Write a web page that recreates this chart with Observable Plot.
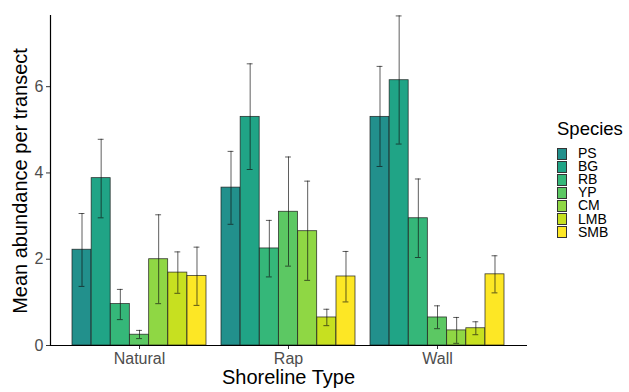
<!DOCTYPE html>
<html>
<head>
<meta charset="utf-8">
<script src="https://cdn.jsdelivr.net/npm/d3@7"></script>
<script src="https://cdn.jsdelivr.net/npm/@observablehq/plot@0.6"></script>
<style>
  html, body { margin: 0; padding: 0; background: #fff; }
  #wrap { position: relative; width: 629px; height: 392px; font-family: "Liberation Sans", Arial, sans-serif; }
  .title { position: absolute; color: #000; white-space: nowrap; }
  #legend { position: absolute; left: 557px; top: 118px; }
  #legend .lt { font-size: 18.5px; line-height: 21px; color: #000; margin-bottom: 8px; margin-left: 0px; }
  #legend .row { display: flex; align-items: center; height: 13.1px; }
  #legend .key { width: 10px; height: 12.1px; border: 0.5px solid #333; box-sizing: border-box; margin-right: 11px; }
  #legend .lab { font-size: 14px; color: #000; line-height: 13px; }
</style>
</head>
<body>
<div id="wrap"></div>
<script>
const shorelines = ["Natural", "Rap", "Wall"];
const species = ["PS", "BG", "RB", "YP", "CM", "LMB", "SMB"];
const colors = ["#22908C", "#20A486", "#35B779", "#5CC863", "#8FD744", "#C7E020", "#FDE725"];

// means per shoreline (order of species)
const meanNatural = [2.22, 3.88, 0.96, 0.25, 2.00, 1.69, 1.61];
const meanRap     = [3.66, 5.30, 2.25, 3.10, 2.65, 0.65, 1.60];
const meanWall    = [5.30, 6.15, 2.95, 0.65, 0.35, 0.40, 1.65];
// error bar lower / upper
const loNatural = [1.37, 2.96, 0.60, 0.16, 0.97, 1.21, 0.93];
const hiNatural = [3.06, 4.78, 1.30, 0.35, 3.03, 2.17, 2.28];
const loRap     = [2.81, 4.08, 1.59, 1.84, 1.51, 0.46, 1.01];
const hiRap     = [4.50, 6.53, 2.90, 4.37, 3.81, 0.84, 2.18];
const loWall    = [4.15, 4.67, 2.04, 0.39, 0.05, 0.25, 1.22];
const hiWall    = [6.47, 7.64, 3.86, 0.92, 0.65, 0.55, 2.08];
const yTicks = [0, 2, 4, 6];

const means = [meanNatural, meanRap, meanWall];
const los = [loNatural, loRap, loWall];
const his = [hiNatural, hiRap, hiWall];

const W = 629, H = 392;
const mL = 50, mR = W - 527, mT = 15, mB = H - 345;
const padInner = 0.1, padOuter = 0.15;
const step = (W - mL - mR) / (shorelines.length - padInner + 2 * padOuter);
const bw = step * (1 - padInner);
const w = bw / species.length;
const cap = 3;

const marks = [];
species.forEach((sp, i) => {
  const rows = shorelines.map((s, k) => ({shore: s, species: sp, mean: means[k][i], lo: los[k][i], hi: his[k][i]}));
  marks.push(Plot.barY(rows, {
    x: "shore", y: "mean", fill: colors[i],
    stroke: "#1a1a1a", strokeOpacity: 0.85, strokeWidth: 0.8,
    insetLeft: i * w, insetRight: (species.length - 1 - i) * w
  }));
});
species.forEach((sp, i) => {
  const rows = shorelines.map((s, k) => ({shore: s, species: sp, mean: means[k][i], lo: los[k][i], hi: his[k][i]}));
  const dx = (i - (species.length - 1) / 2) * w;
  marks.push(Plot.ruleX(rows, {x: "shore", y1: "lo", y2: "hi", dx, stroke: "#111", strokeOpacity: 0.75, strokeWidth: 0.9}));
  const capOpts = {x: "shore", stroke: "#111", strokeOpacity: 0.75, strokeWidth: 0.9,
    insetLeft: (i + 0.5) * w - cap, insetRight: (species.length - 1 - i + 0.5) * w - cap};
  marks.push(Plot.tickY(rows, {...capOpts, y: "lo"}));
  marks.push(Plot.tickY(rows, {...capOpts, y: "hi"}));
});

const chart = Plot.plot({
  width: W, height: H,
  marginLeft: mL, marginRight: mR, marginTop: mT, marginBottom: mB,
  style: {fontFamily: "'Liberation Sans', Arial, sans-serif", fontSize: "16px", background: "transparent"},
  x: {domain: shorelines, paddingInner: padInner, paddingOuter: padOuter},
  y: {domain: [0, 7.65]},
  marks: [
    ...marks,
    Plot.axisX({tickSize: 4, tickPadding: 3, label: null, color: "#4D4D4D", stroke: "#333"}),
    Plot.axisY({ticks: yTicks, tickSize: 4, tickPadding: 3, label: null, color: "#4D4D4D", stroke: "#333"}),
    Plot.ruleY([0], {stroke: "#000", strokeWidth: 1.2}),
    Plot.frame({anchor: "left", stroke: "#000", strokeWidth: 1.2})
  ]
});

const wrap = document.getElementById("wrap");
wrap.appendChild(chart);

const xt = document.createElement("div");
xt.className = "title";
xt.textContent = "Shoreline Type";
xt.style.cssText = "font-size:20px;left:" + (mL + (W - mL - mR) / 2) + "px;top:366px;transform:translateX(-50%);";
wrap.appendChild(xt);

const yt = document.createElement("div");
yt.className = "title";
yt.textContent = "Mean abundance per transect";
yt.style.cssText = "font-size:20px;left:20px;top:181px;transform:translate(-50%,-50%) rotate(-90deg);";
wrap.appendChild(yt);

const lg = document.createElement("div");
lg.id = "legend";
const lt = document.createElement("div");
lt.className = "lt";
lt.textContent = "Species";
lg.appendChild(lt);
species.forEach((sp, i) => {
  const r = document.createElement("div");
  r.className = "row";
  const k = document.createElement("div");
  k.className = "key";
  k.style.background = colors[i];
  const l = document.createElement("span");
  l.className = "lab";
  l.textContent = sp;
  r.appendChild(k); r.appendChild(l);
  lg.appendChild(r);
});
wrap.appendChild(lg);
</script>
</body>
</html>
